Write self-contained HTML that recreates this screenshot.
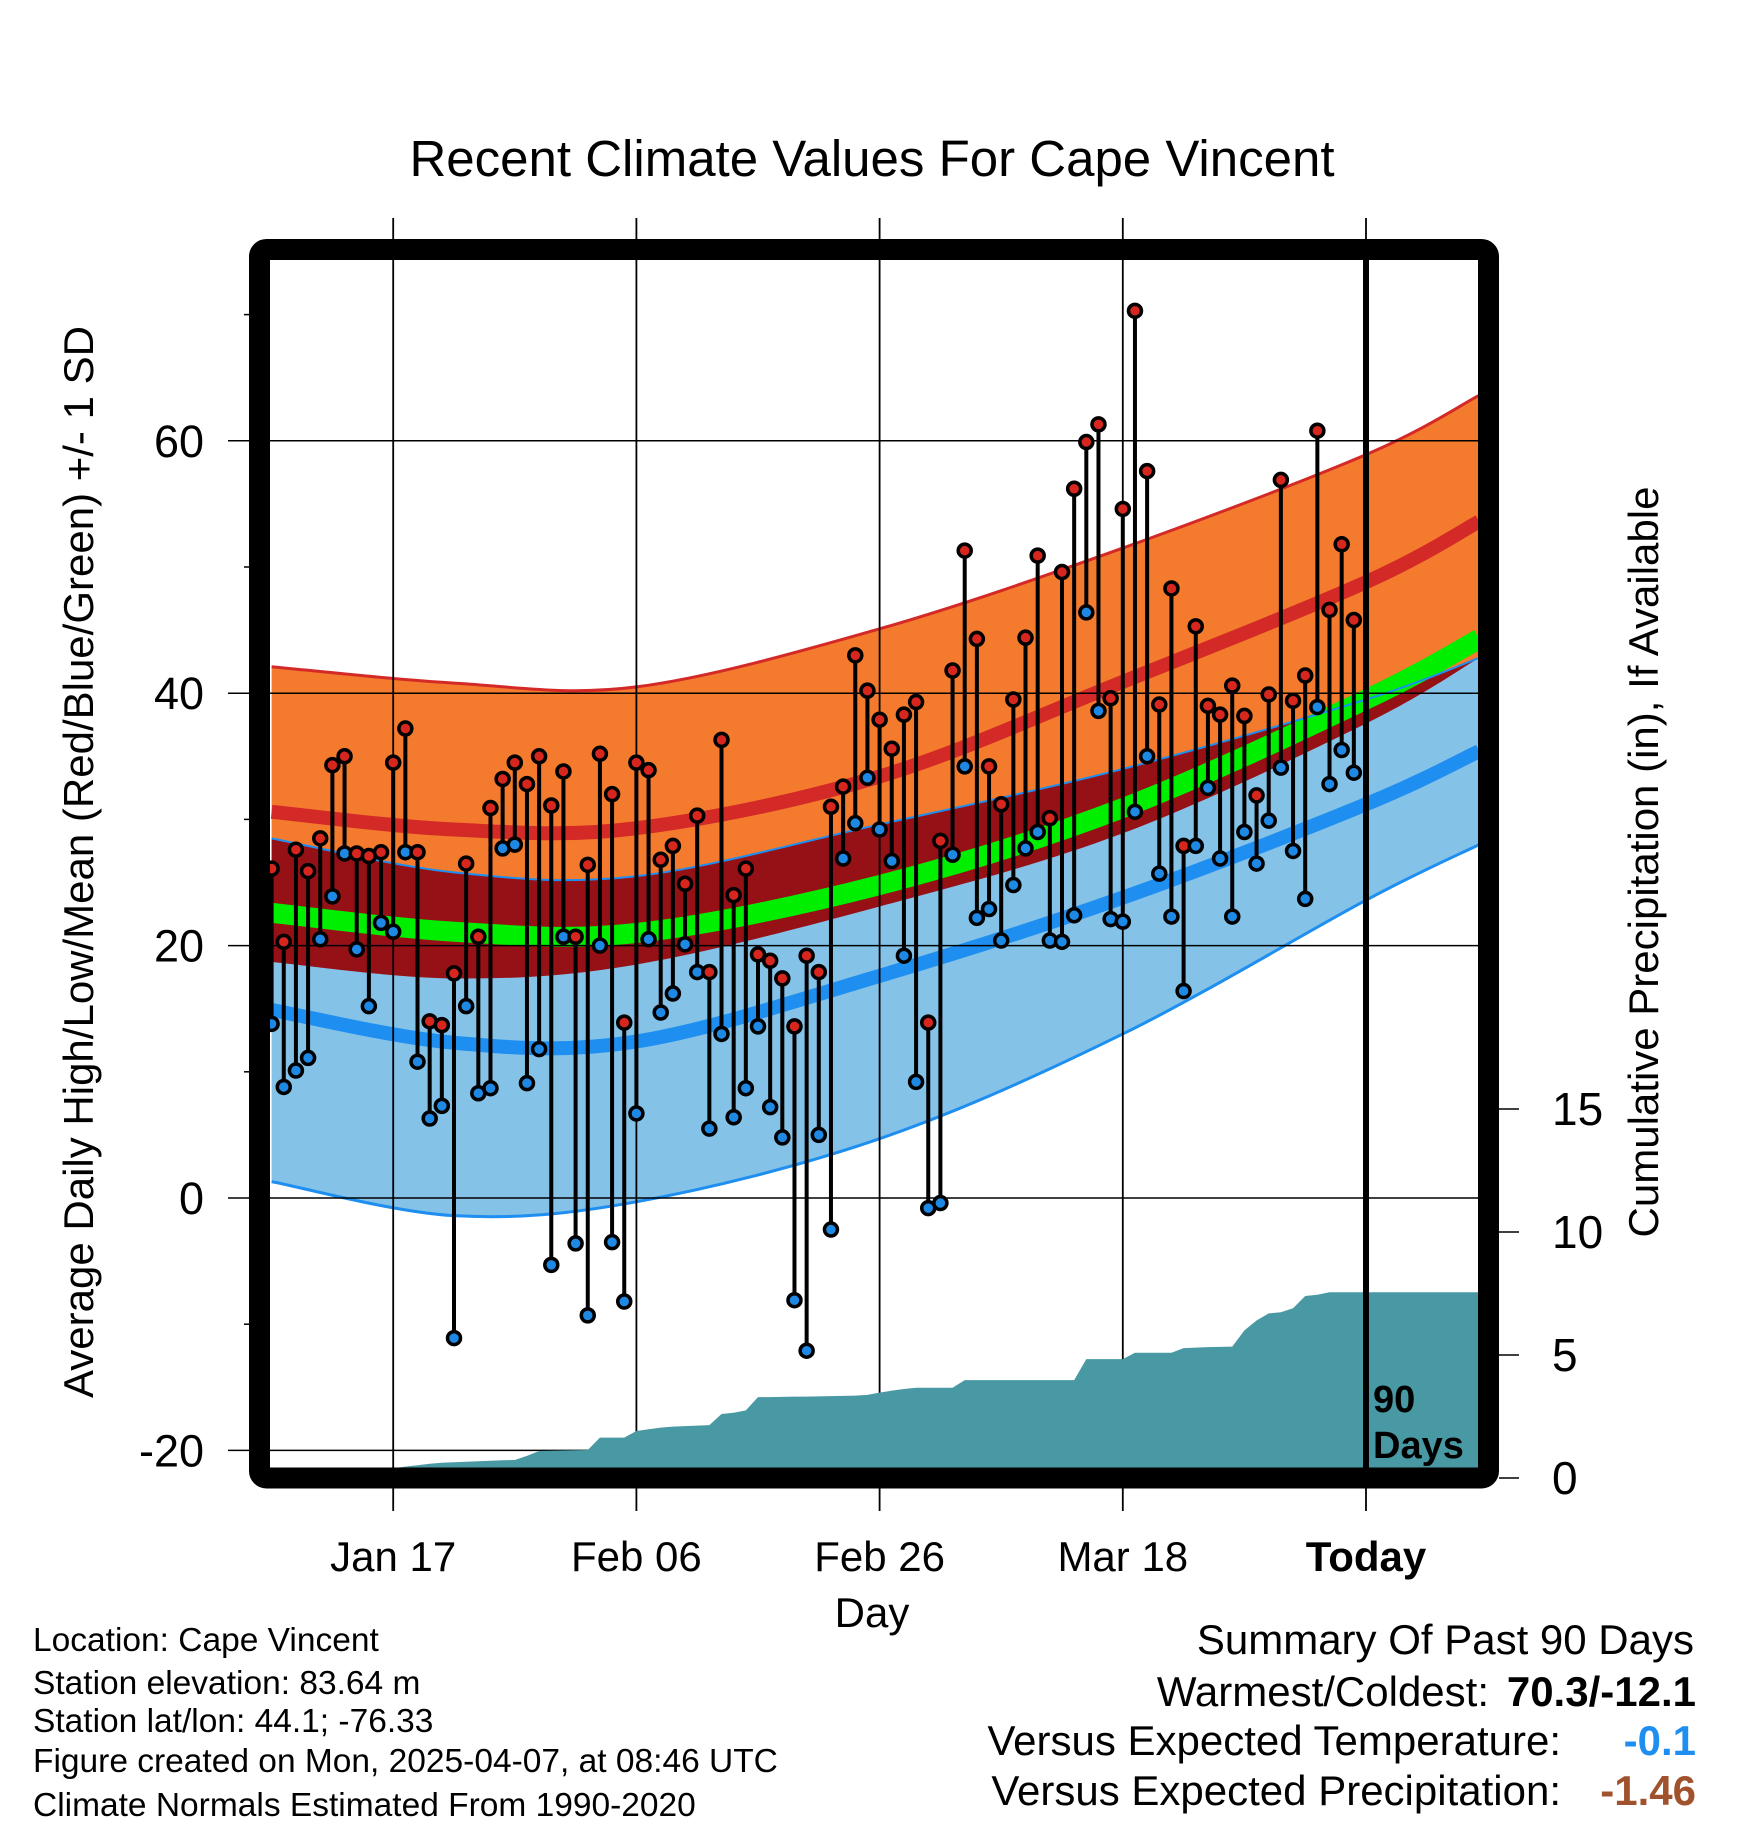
<!DOCTYPE html>
<html><head><meta charset="utf-8"><title>Recent Climate Values For Cape Vincent</title>
<style>
html,body{margin:0;padding:0;background:#fff;}
svg{display:block;font-family:"Liberation Sans",Arial,sans-serif;}
</style></head>
<body>
<svg id="chart" width="1748" height="1828" viewBox="0 0 1748 1828" xmlns="http://www.w3.org/2000/svg">
<defs><clipPath id="plotclip"><rect x="270" y="260" width="1208" height="1208"/></clipPath></defs>
<g id="bands" clip-path="url(#plotclip)"></g>
<g id="grid"></g>
<g id="precip" clip-path="url(#plotclip)"></g>
<g id="marks" clip-path="url(#plotclip)"></g>
<g id="axes"></g>
<text x="872" y="176" font-size="51" text-anchor="middle">Recent Climate Values For Cape Vincent</text>
<text transform="translate(93,862) rotate(-90)" font-size="42" text-anchor="middle">Average Daily High/Low/Mean (Red/Blue/Green) +/- 1 SD</text>
<text transform="translate(1658,862) rotate(-90)" font-size="42" text-anchor="middle">Cumulative Precipitation (in), If Available</text>
<text x="872" y="1627" font-size="42" text-anchor="middle">Day</text>
<g font-size="33.5">
<text x="33" y="1651">Location: Cape Vincent</text>
<text x="33" y="1694">Station elevation: 83.64 m</text>
<text x="33" y="1732">Station lat/lon: 44.1; -76.33</text>
<text x="33" y="1772">Figure created on Mon, 2025-04-07, at 08:46 UTC</text>
<text x="33" y="1816">Climate Normals Estimated From 1990-2020</text>
</g>
<g font-size="42">
<text x="1694" y="1654" text-anchor="end">Summary Of Past 90 Days</text>
<text x="1489" y="1706" text-anchor="end">Warmest/Coldest:</text>
<text x="1696" y="1706" text-anchor="end" font-weight="bold">70.3/-12.1</text>
<text x="1561" y="1755" text-anchor="end">Versus Expected Temperature:</text>
<text x="1696" y="1755" text-anchor="end" font-weight="bold" fill="#1e8ff0">-0.1</text>
<text x="1561" y="1805" text-anchor="end">Versus Expected Precipitation:</text>
<text x="1696" y="1805" text-anchor="end" font-weight="bold" fill="#a0522d">-1.46</text>
</g>
</svg>
<script>
const highs=[26.1,20.3,27.6,25.9,28.5,34.3,35.0,27.3,27.1,27.4,34.5,37.2,27.4,14.0,13.7,17.8,26.5,20.7,30.9,33.2,34.5,32.8,35.0,31.1,33.8,20.7,26.4,35.2,32.0,13.9,34.5,33.9,26.8,27.9,24.9,30.3,17.9,36.3,24.0,26.1,19.3,18.8,17.4,13.6,19.2,17.9,31.0,32.6,43.0,40.2,37.9,35.6,38.3,39.3,13.9,28.3,41.8,51.3,44.3,34.2,31.2,39.5,44.4,50.9,30.1,49.6,56.2,59.9,61.3,39.6,54.6,70.3,57.6,39.1,48.3,27.9,45.3,39.0,38.3,40.6,38.2,31.9,39.9,56.9,39.4,41.4,60.8,46.6,51.8,45.8];
const lows=[13.8,8.8,10.1,11.1,20.5,23.9,27.3,19.7,15.2,21.8,21.1,27.4,10.8,6.3,7.3,-11.1,15.2,8.3,8.7,27.7,28.0,9.1,11.8,-5.3,20.7,-3.6,-9.3,20.0,-3.5,-8.2,6.7,20.5,14.7,16.2,20.1,17.9,5.5,13.0,6.4,8.7,13.6,7.2,4.8,-8.1,-12.1,5.0,-2.5,26.9,29.7,33.3,29.2,26.7,19.2,9.2,-0.8,-0.4,27.2,34.2,22.2,22.9,20.4,24.8,27.7,29.0,20.4,20.3,22.4,46.4,38.6,22.1,21.9,30.6,35.0,25.7,22.3,16.4,27.9,32.5,26.9,22.3,29.0,26.5,29.9,34.1,27.5,23.7,38.9,32.8,35.5,33.7];
const precipCum=[0,0,0,0,0.05,0.1,0.15,0.2,0.25,0.3,0.4,0.46,0.52,0.58,0.62,0.64,0.66,0.68,0.70,0.72,0.73,0.9,1.10,1.11,1.12,1.13,1.14,1.64,1.64,1.64,1.91,1.98,2.05,2.09,2.11,2.13,2.15,2.6,2.65,2.75,3.29,3.29,3.30,3.31,3.31,3.32,3.33,3.34,3.35,3.38,3.47,3.55,3.62,3.67,3.67,3.67,3.67,3.98,3.98,3.98,3.98,3.98,3.98,3.98,3.98,3.98,3.98,4.83,4.83,4.83,4.83,5.09,5.09,5.09,5.09,5.28,5.30,5.32,5.33,5.34,6.0,6.4,6.69,6.74,6.9,7.4,7.45,7.55,7.55,7.55];
const normDays=[-90,-75,-60,-40,-20,0,9.3];
const highUp=[42.1,40.8,40.5,45.1,51.5,58.9,63.6];
const highMean=[30.6,29.2,29.3,33.4,40.9,48.8,53.6];
const highDn=[18.7,17.4,18.5,23.1,28.9,37.6,42.8];
const lowUp=[28.5,25.8,25.5,29.6,34.0,39.5,42.8];
const lowMean=[14.9,12.3,12.4,17.6,23.8,31.2,35.4];
const lowDn=[1.3,-1.4,-0.3,4.7,13.0,23.6,28.0];
const meanT=[22.6,21.1,21.0,24.8,30.9,39.5,44.3];
const xTickDays=[-80,-60,-40,-20,0];
const xTickLabels=["Jan 17","Feb 06","Feb 26","Mar 18","Today"];
const yTicks=[-20,0,20,40,60];
const yMinor=[-10,10,30,50,70];
const pTicks=[0,5,10,15];

const NS="http://www.w3.org/2000/svg";
function X(d){return 1366+12.16*d;}
function Y(t){return 1198-t*12.62;}
function P(p){return 1478-p*24.6;}
function mk(tag,attrs,parent){const e=document.createElementNS(NS,tag);for(const k in attrs)e.setAttribute(k,attrs[k]);parent.appendChild(e);return e;}
function pts(arr){return normDays.map((d,i)=>[X(d),Y(arr[i])]);}
function spline(p,move){let s=move?`M${p[0][0]},${p[0][1]}`:`L${p[0][0]},${p[0][1]}`;
 for(let i=0;i<p.length-1;i++){const p0=p[i-1]||p[i],p1=p[i],p2=p[i+1],p3=p[i+2]||p[i+1];
 s+=` C${p1[0]+(p2[0]-p0[0])/6},${p1[1]+(p2[1]-p0[1])/6} ${p2[0]-(p3[0]-p1[0])/6},${p2[1]-(p3[1]-p1[1])/6} ${p2[0]},${p2[1]}`;}
 return s;}
function band(top,bot){return spline(pts(top),true)+spline(pts(bot).reverse(),false)+"Z";}
const bands=document.getElementById('bands');
let e;
e=mk('path',{d:band(highUp,highDn),fill:'#f47b2e'},bands);


e=mk('path',{d:band(lowUp,lowDn),fill:'#84c2e8'},bands);


e=mk('path',{d:band(lowUp,highDn),fill:'#961116'},bands);


const lines=[[meanT,'#00ee00',20,'mean-line'],[highMean,'#d42a27',14,'high-mean-line'],[lowMean,'#1e8ff0',14,'low-mean-line'],[highUp,'#d42a27',3,'high-upper-line'],[lowUp,'#1e8ff0',2,'low-upper-line'],[lowDn,'#1e8ff0',3,'low-lower-line']];
lines.forEach(l=>{e=mk('path',{d:spline(pts(l[0]),true),fill:'none',stroke:l[1],'stroke-width':l[2]},bands);

});

const grid=document.getElementById('grid');
yTicks.forEach(t=>{e=mk('line',{x1:228,x2:1478,y1:Y(t),y2:Y(t),stroke:'#000','stroke-width':1.5},grid);

});
xTickDays.forEach((d,i)=>{e=mk('line',{x1:X(d),x2:X(d),y1:218,y2:1511,stroke:'#000','stroke-width':1.8},grid);

});

const precip=document.getElementById('precip');
let pd=`M${X(-90)},${P(0)}`;
precipCum.forEach((p,i)=>{pd+=` L${X(-90+i)},${P(p)}`;});
pd+=` L${X(9.5)},${P(precipCum[precipCum.length-1])} L${X(9.5)},${P(0)}Z`;
e=mk('path',{d:pd,fill:'#4899a3'},precip);



const marks=document.getElementById('marks');
highs.forEach((h,i)=>{const d=-90+i;
 e=mk('line',{x1:X(d),x2:X(d),y1:Y(h),y2:Y(lows[i]),stroke:'#000','stroke-width':4},marks);
 
 
 e=mk('circle',{cx:X(d),cy:Y(h),r:6.5,fill:'#d6261e',stroke:'#000','stroke-width':3.5},marks);
 
 
 e=mk('circle',{cx:X(d),cy:Y(lows[i]),r:6.5,fill:'#1e88e5',stroke:'#000','stroke-width':3.5},marks);
 
 
});

const axes=document.getElementById('axes');
e=mk('line',{x1:X(0),x2:X(0),y1:255,y2:1475,stroke:'#000','stroke-width':6},axes);


e=mk('rect',{x:259.5,y:249.5,width:1229,height:1228.5,rx:7,fill:'none',stroke:'#000','stroke-width':21},axes);


yTicks.forEach(t=>{e=mk('text',{x:204,y:Y(t)+16,'font-size':45,'text-anchor':'end'},axes);e.textContent=t;

});
yMinor.forEach(t=>{e=mk('line',{x1:244,x2:260,y1:Y(t),y2:Y(t),stroke:'#000','stroke-width':1.5},axes);

});
xTickDays.forEach((d,i)=>{e=mk('text',{x:X(d),y:1571,'font-size':42,'text-anchor':'middle','font-weight':i===4?'bold':'normal'},axes);e.textContent=xTickLabels[i];

});
pTicks.forEach(p=>{e=mk('line',{x1:1499,x2:1519,y1:P(p),y2:P(p),stroke:'#000','stroke-width':1.5},axes);


e=mk('text',{x:1552,y:P(p)+16,'font-size':46},axes);e.textContent=p;

});
e=mk('text',{x:1373,y:1412,'font-size':38,'font-weight':'bold'},axes);e.textContent='90';


e=mk('text',{x:1373,y:1458,'font-size':38,'font-weight':'bold'},axes);e.textContent='Days';


</script>
</body></html>
